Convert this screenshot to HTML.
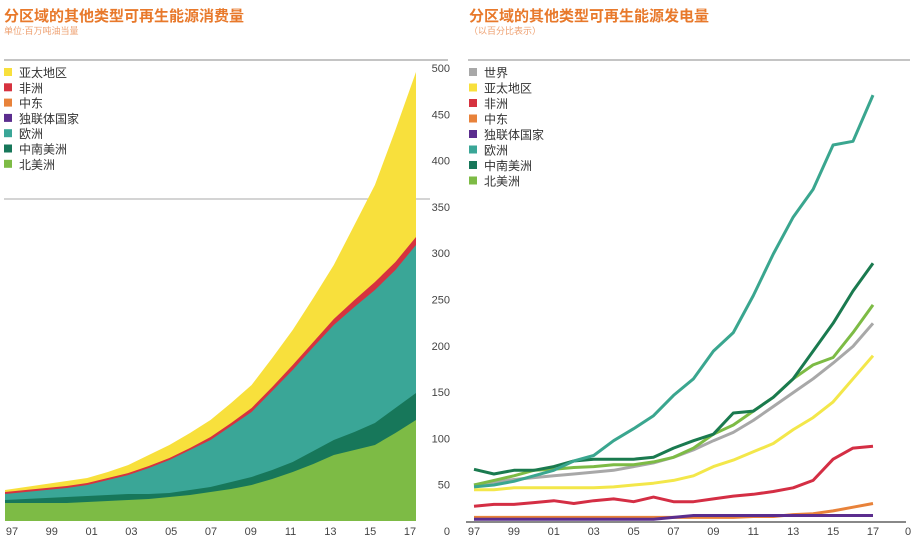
<!DOCTYPE html>
<html><head><meta charset="utf-8"><style>
body{margin:0;background:#fff;width:924px;height:554px;overflow:hidden}
svg{display:block}
text{font-family:"Liberation Sans","Noto Sans CJK SC",sans-serif}
</style></head><body>
<svg id="s" width="924" height="554" xmlns="http://www.w3.org/2000/svg">
<text x="4" y="21" font-size="15" font-weight="bold" fill="#e8792b">分区域的其他类型可再生能源消费量</text>
<text x="4" y="34" font-size="9" fill="#eea070">单位:百万吨油当量</text>
<text x="469" y="21" font-size="15" font-weight="bold" fill="#e8792b">分区域的其他类型可再生能源发电量</text>
<text x="469" y="34" font-size="9" fill="#eea070">（以百分比表示）</text>
<line x1="4" y1="60" x2="448" y2="60" stroke="#888" stroke-width="1"/>
<line x1="468" y1="60" x2="910" y2="60" stroke="#888" stroke-width="1"/>
<line x1="4" y1="199" x2="430" y2="199" stroke="#aaa" stroke-width="1"/>
<g id="areas"></g>
<g id="lines"></g>
<line x1="466" y1="522" x2="906" y2="522" stroke="#111" stroke-width="1"/>
<g id="lab" font-size="11" fill="#444"></g>
</svg>
<script>
var NS="http://www.w3.org/2000/svg";
function el(p,t,a,tx){var e=document.createElementNS(NS,t);for(var k in a)e.setAttribute(k,a[k]);if(tx!=null)e.textContent=tx;document.getElementById(p).appendChild(e);return e;}
var lx=function(i){return 5+i*20.55};
var asia=[490,487,484,481,478,472,465,455,445,433,420,403,385,358,330,298,265,225,185,130,72];
var afr=[492,490,488,486,483,478,473,466,458,448,437,423,408,387,365,342,319,300,282,262,237];
var eur=[494,492,490,488,485,480,475,468,460,450,440,426,412,391,370,347,325,307,290,270,245];
var csa=[500,499,498,497,496,495,494,494,493,490,487,482,477,470,462,451,440,432,423,408,393];
var na=[503,503,503,503,502,501,500,499,497,495,492,489,485,479,472,464,455,450,445,433,420];
function area(top,col){var d="M"+lx(0)+",521";for(var i=0;i<21;i++)d+="L"+lx(i).toFixed(1)+","+top[i];d+="L"+lx(20)+",521Z";el("areas","path",{d:d,fill:col});}
area(asia,"#f8e03c");area(afr,"#d6323f");area(eur,"#3aa697");area(csa,"#17775a");area(na,"#7dbb45");
var rx=function(i){return 474+i*19.95};var ry=function(v){return 522-v*0.924};
var S=[
["#e8823a",[5,5,5,5,5,5,5,5,5,5,5,5,5,5,6,6,8,9,12,16,20]],
["#5b2d8e",[3,3,3,3,3,3,3,3,3,3,5,7,7,7,7,7,7,7,7,7,7]],
["#d42e44",[17,19,19,21,23,20,23,25,22,27,22,22,25,28,30,33,37,45,68,80,82]],
["#f3e74a",[35,35,37,37,37,37,37,38,40,42,45,50,60,67,76,85,100,113,130,155,180]],
["#a8a8a8",[40,43,46,48,50,52,54,56,60,64,70,78,88,97,110,125,140,155,172,190,215]],
["#7dbb45",[40,45,50,56,57,59,60,62,62,65,70,80,95,105,120,135,155,170,178,205,235]],
["#1a7a4f",[57,52,56,56,60,66,68,68,68,70,80,88,95,118,120,135,155,185,215,250,280]],
["#3aa68f",[38,40,44,50,56,66,72,88,101,115,137,155,185,205,245,290,330,360,408,412,462]]];
S.forEach(function(s){var p="";s[1].forEach(function(v,i){p+=rx(i).toFixed(1)+","+ry(v).toFixed(1)+" "});el("lines","polyline",{points:p,fill:"none",stroke:s[0],"stroke-width":3,"stroke-linejoin":"round"});});
for(var v=0;v<=500;v+=50)el("lab","text",{x:450,y:535-v*0.926,"text-anchor":"end"},""+v);
var yrs=["97","99","01","03","05","07","09","11","13","15","17"];
yrs.forEach(function(y,k){el("lab","text",{x:12+k*39.8,y:535,"text-anchor":"middle"},y);el("lab","text",{x:rx(k*2),y:535,"text-anchor":"middle"},y);});
el("lab","text",{x:908,y:535,"text-anchor":"middle"},"0");
var L1=[["#f8e03c","亚太地区"],["#d6323f","非洲"],["#e8823a","中东"],["#5b2d8e","独联体国家"],["#3aa697","欧洲"],["#17775a","中南美洲"],["#7dbb45"," 北美洲"]];
L1.forEach(function(l,i){var y=73+i*15.3;el("lab","rect",{x:4,y:y-5,width:8,height:8,fill:l[0]});el("lab","text",{x:19,y:y+4,"font-size":12,fill:"#333","xml:space":"preserve"},l[1]);});
var L2=[["#a8a8a8","世界"]].concat(L1);
L2.forEach(function(l,i){var y=73+i*15.5;el("lab","rect",{x:469,y:y-5,width:8,height:8,fill:l[0]});el("lab","text",{x:484,y:y+4,"font-size":12,fill:"#333"},l[1]);});
</script>
</body></html>
